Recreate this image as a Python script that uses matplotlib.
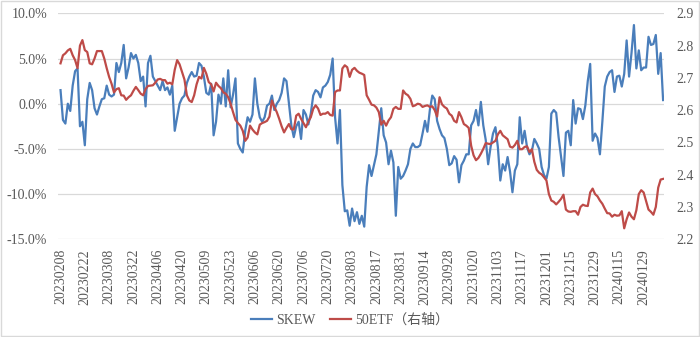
import matplotlib
matplotlib.use('Agg')
import matplotlib.pyplot as plt
import pandas as pd
from matplotlib.patches import Rectangle
from matplotlib.ticker import FuncFormatter

plt.rcParams['font.family'] = ['Liberation Serif', 'Noto Sans CJK SC']

# trading days 20230208 - 20240208 (weekday exchange holidays removed)
holidays = ['2023-04-05', '2023-05-01', '2023-05-02', '2023-05-03', '2023-06-22',
            '2023-06-23', '2023-09-29', '2023-10-02', '2023-10-03', '2023-10-04',
            '2023-10-05', '2023-10-06', '2024-01-01']
days = pd.bdate_range('2023-02-08', '2024-02-08')
days = days[~days.isin(pd.to_datetime(holidays))]
dates = [d.strftime('%Y%m%d') for d in days]

# SKEW, %
skew = [1.5, -1.8, -2.2, 0.0, -0.8, 2.0, 3.6, 3.9, -2.5, -2.0,
        -4.6, 0.5, 2.3, 1.5, -0.5, -1.2, -0.3, 0.5, 0.6, 2.0,
        1.0, 0.8, 1.0, 4.5, 3.5, 4.5, 6.5, 2.8, 4.0, 5.6,
        5.0, 5.4, 4.5, 2.5, 3.0, -0.3, 4.5, 5.3, 3.0, 2.5,
        2.0, 1.5, 2.5, 1.5, 1.8, 1.0, 2.0, -3.0, -1.5, 0.0,
        0.6, 0.9, 2.3, 3.0, 3.5, 3.0, 3.1, 4.5, 4.2, 3.0,
        1.2, 1.0, 2.2, -3.5, -2.0, 1.0, 0.0, 2.8, -0.3, 3.7,
        -0.4, 1.0, 2.8, -4.4, -5.0, -5.4, -3.0, -1.5, -2.0, -1.2,
        2.8, 0.0, -1.5, -2.0, -1.5, -0.2, 0.0, 0.9, -0.7, 0.0,
        0.4, 1.2, 2.8, 2.5, 0.0, -2.4, -3.7, -2.5, -2.0, -3.9,
        -0.7, -1.2, -2.3, -1.1, 0.9, 1.5, 1.3, 0.7, 1.8, 2.0,
        2.4, 3.2, 5.0, -1.5, -4.4, -0.7, -9.0, -11.9, -11.8, -13.5,
        -11.6, -13.0, -12.0, -13.3, -12.4, -13.6, -9.2, -6.8, -8.0, -6.8,
        -5.6, -3.0, -0.5, -3.5, -4.3, -6.7, -5.2, -6.5, -12.4, -7.0,
        -8.3, -8.0, -7.4, -6.7, -5.0, -4.4, -4.8, -4.8, -4.6, -3.3,
        -1.9, -3.1, -0.7, 0.9, 0.5, -1.9, -2.8, -3.5, -3.8, -5.0,
        -6.8, -6.6, -5.8, -6.2, -8.7, -6.8, -6.3, -5.6, -5.6, -2.4,
        -1.9, -0.7, -2.4, 0.2, -2.4, -4.0, -6.7, -4.8, -3.3, -2.6,
        -4.8, -8.5, -6.7, -7.4, -5.9, -7.5, -9.8, -7.4, -6.7, -1.5,
        -4.4, -3.0, -4.8, -5.6, -5.2, -3.9, -4.4, -5.0, -7.0, -7.9,
        -8.3, -7.0, -1.1, -0.7, -1.0, -3.7, -5.9, -8.0, -3.2, -3.0,
        -4.6, 0.4, -2.2, -0.5, -0.6, -1.7, -0.2, 2.5, 4.4, -4.1,
        -3.3, -3.8, -5.6, -2.0, 1.9, 3.0, 3.5, 3.7, 1.3, 3.0,
        3.1, 1.9, 3.3, 7.0, 3.0, 5.6, 8.7, 3.9, 5.9, 3.7,
        4.0, 4.0, 7.4, 6.5, 6.6, 7.6, 3.3, 5.6, 0.4]

# 50ETF price (right axis)
etf = [2.745, 2.770, 2.776, 2.785, 2.790, 2.770, 2.755, 2.730, 2.800, 2.817,
       2.786, 2.780, 2.745, 2.742, 2.760, 2.783, 2.783, 2.783, 2.760, 2.730,
       2.703, 2.682, 2.655, 2.665, 2.668, 2.646, 2.645, 2.632, 2.640, 2.646,
       2.660, 2.672, 2.662, 2.651, 2.646, 2.665, 2.675, 2.676, 2.677, 2.685,
       2.695, 2.697, 2.693, 2.693, 2.682, 2.685, 2.680, 2.725, 2.755, 2.742,
       2.718, 2.695, 2.646, 2.630, 2.625, 2.646, 2.680, 2.703, 2.698, 2.731,
       2.713, 2.687, 2.680, 2.658, 2.685, 2.675, 2.668, 2.655, 2.651, 2.640,
       2.620, 2.594, 2.570, 2.560, 2.552, 2.536, 2.505, 2.515, 2.552, 2.540,
       2.531, 2.525, 2.555, 2.560, 2.563, 2.567, 2.580, 2.630, 2.610, 2.594,
       2.573, 2.550, 2.531, 2.545, 2.557, 2.541, 2.540, 2.583, 2.589, 2.573,
       2.560, 2.547, 2.565, 2.578, 2.604, 2.615, 2.605, 2.585, 2.589, 2.589,
       2.594, 2.585, 2.583, 2.656, 2.661, 2.661, 2.729, 2.739, 2.733, 2.703,
       2.725, 2.731, 2.722, 2.716, 2.713, 2.709, 2.646, 2.632, 2.617, 2.615,
       2.608, 2.594, 2.555, 2.567, 2.552, 2.568, 2.578, 2.604, 2.610, 2.604,
       2.604, 2.661, 2.651, 2.646, 2.635, 2.612, 2.615, 2.620, 2.618, 2.610,
       2.613, 2.615, 2.610, 2.612, 2.600, 2.580, 2.640, 2.618, 2.610, 2.605,
       2.589, 2.583, 2.567, 2.562, 2.594, 2.578, 2.557, 2.552, 2.545, 2.490,
       2.460, 2.445, 2.452, 2.465, 2.480, 2.498, 2.496, 2.495, 2.500, 2.505,
       2.525, 2.536, 2.522, 2.516, 2.510, 2.487, 2.484, 2.492, 2.505, 2.479,
       2.479, 2.486, 2.488, 2.470, 2.479, 2.440, 2.415, 2.406, 2.401, 2.392,
       2.382, 2.340, 2.320, 2.316, 2.308, 2.316, 2.325, 2.338, 2.292, 2.286,
       2.285, 2.287, 2.287, 2.276, 2.300, 2.307, 2.304, 2.303, 2.345, 2.357,
       2.340, 2.333, 2.320, 2.310, 2.295, 2.281, 2.280, 2.270, 2.276, 2.273,
       2.274, 2.287, 2.234, 2.262, 2.283, 2.270, 2.262, 2.290, 2.340, 2.352,
       2.345, 2.318, 2.292, 2.285, 2.276, 2.300, 2.360, 2.385, 2.387]

dates = dates[:len(skew)]
x = range(len(skew))
txt = '#595959'

fig = plt.figure(figsize=(7, 3.37), dpi=100)
ax = fig.add_axes([0.083, 0.29, 0.866, 0.6705])
ax2 = ax.twinx()

l1, = ax.plot(x, skew, color='#4A7EBB', lw=1.6, label='SKEW')
l2, = ax2.plot(x, etf, color='#BE4B48', lw=1.6, label='50ETF（右轴）')

ax.set_ylim(-15, 10)
ax.set_yticks([-15, -10, -5, 0, 5, 10])
ax.yaxis.set_major_formatter(FuncFormatter(lambda v, p: '%.1f%%' % v))
ax2.set_ylim(2.2, 2.9)
ax2.set_yticks([2.2, 2.3, 2.4, 2.5, 2.6, 2.7, 2.8, 2.9])
ax2.yaxis.set_major_formatter(FuncFormatter(lambda v, p: '%.1f' % v))
ax.set_xlim(-1, len(skew) - 0.5)
ax.set_xticks(list(range(0, len(skew), 10)))
ax.set_xticklabels(dates[::10], rotation=90)

ax.grid(axis='y', color='#D9D9D9', lw=0.9)
ax.set_axisbelow(True)
for a in (ax, ax2):
    for s in a.spines.values():
        s.set_visible(False)
    a.tick_params(length=0, labelsize=10, colors=txt)
ax.tick_params(axis='y', pad=8)
ax.tick_params(axis='x', pad=7)
ax2.tick_params(axis='y', pad=9)

fig.legend(handles=[l1, l2], loc='center', bbox_to_anchor=(0.5, 0.05), ncol=2,
           frameon=False, fontsize=10, labelcolor=txt, handlelength=1.5,
           columnspacing=1.0, handletextpad=0.3)

fig.patches.append(Rectangle((0.001, 0.003), 0.997, 0.994, transform=fig.transFigure,
                             fill=False, edgecolor='#D9D9D9', lw=1))
fig.savefig('out.png', dpi=100)
